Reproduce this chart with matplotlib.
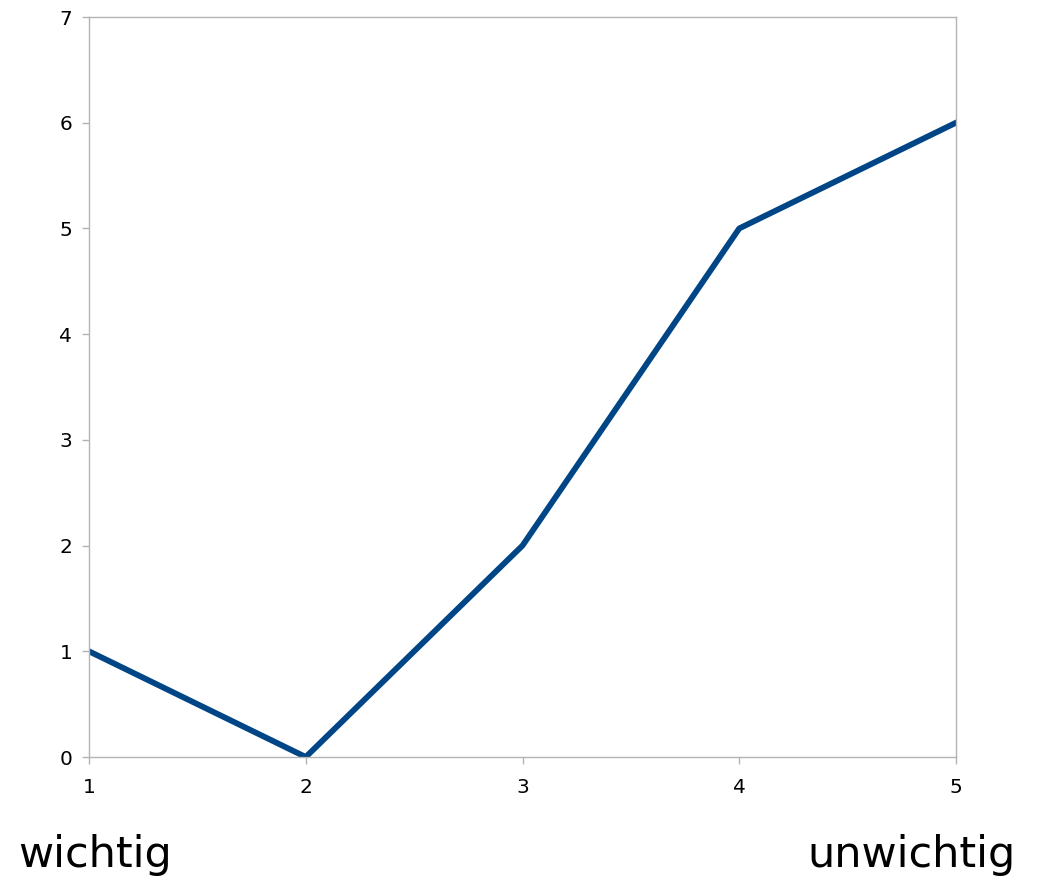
import matplotlib
matplotlib.use("Agg")
import matplotlib.pyplot as plt

# data
x_vals = [1, 2, 3, 4, 5]
y_vals = [1, 0, 2, 5, 6]
y_ticks = [0, 1, 2, 3, 4, 5, 6, 7]

line_color = '#004586'
grey = '#b3b3b3'

fig = plt.figure(figsize=(10.39, 8.80), dpi=100)
ax = fig.add_axes([89/1039, 1 - 757/880, (956-89)/1039, (757-17)/880])

ax.plot(x_vals, y_vals, color=line_color, linewidth=4.2, solid_joinstyle='round')

ax.set_xlim(1, 5)
ax.set_ylim(0, 7)
ax.set_xticks(x_vals)
ax.set_yticks(y_ticks)

for s in ax.spines.values():
    s.set_color(grey)
    s.set_linewidth(1.0)

ax.tick_params(axis='both', direction='out', length=5, width=1.0, color=grey,
               labelsize=14.5, pad=7)
ax.tick_params(axis='x', pad=10)

fig.text(18/1039, 1 - 867/880, 'wichtig', fontsize=31, ha='left', va='baseline')
fig.text(1016/1039, 1 - 867/880, 'unwichtig', fontsize=31, ha='right', va='baseline')

fig.savefig('out.png', dpi=100)
